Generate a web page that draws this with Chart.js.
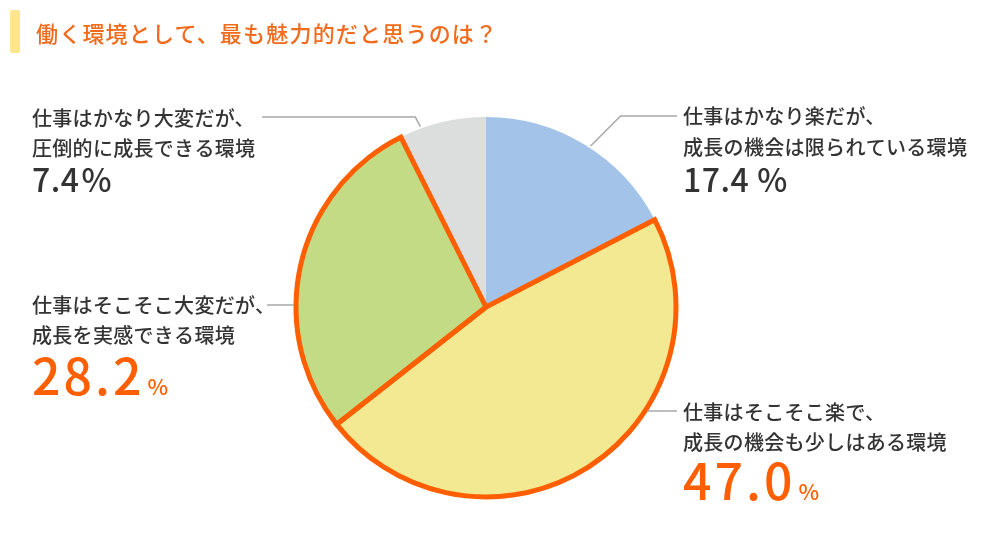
<!DOCTYPE html>
<html lang="ja">
<head>
<meta charset="utf-8">
<script src="https://cdn.jsdelivr.net/npm/chart.js@4"></script>
<style>
  body { margin: 0; background: #fff; }
  #wrap { position: relative; width: 1000px; height: 540px; }
  #bar { position: absolute; left: 10px; top: 10px; width: 10px; height: 43px; background: #ffe68c; border-radius: 2px; }
  #title { position: absolute; left: 36px; top: 17px; font: 500 22px "Noto Sans CJK JP", sans-serif; letter-spacing: 1.2px; color: #f26a1b; line-height: 30px; }
  canvas { position: absolute; left: 0; top: 0; }
</style>
</head>
<body>
<div id="wrap">
  <canvas id="pie" width="1000" height="540"></canvas>
  <div id="bar"></div>
  <div id="title">働く環境として、最も魅力的だと思うのは？</div>
</div>
<script>
const categories = [
    ['仕事はかなり楽だが、', '成長の機会は限られている環境'],
    ['仕事はそこそこ楽で、', '成長の機会も少しはある環境'],
    ['仕事はそこそこ大変だが、', '成長を実感できる環境'],
    ['仕事はかなり大変だが、', '圧倒的に成長できる環境']
];
const values = [17.4, 47.0, 28.2, 7.4];
const highlighted = [false, true, true, false];

const sliceColors = ['#a3c4e8', '#f3e993', '#c3db84', '#dcdedd'];
const orange = '#ff5f00';
const textColor = '#333333';
const lineColor = '#a8a8a8';
const font = '"Noto Sans CJK JP", sans-serif';

// where each label sits, and how its leader line runs
const labelPos = [
    { x: 683, lines: [116, 147], base: 192, leader: { angle: 33, elbowDx: 30, y: 116, endX: 677 } },
    { x: 683, lines: [412, 442], base: 500, leader: { y: 411, endX: 677 } },
    { x: 32, lines: [305, 335], base: 395, leader: { y: 305, endX: 267 } },
    { x: 32, lines: [118, 148], base: 192, leader: { angle: 340, elbowDx: -5, y: 117, endX: 262 } }
];

const labelPlugin = {
    id: 'labels',
    afterDatasetsDraw(chart) {
        const ctx = chart.ctx;
        const arcs = chart.getDatasetMeta(0).data;
        const cx = arcs[0].x, cy = arcs[0].y, R = arcs[0].outerRadius + 2;

        ctx.save();
        // orange outline round the highlighted slices, drawn after all fills
        ctx.strokeStyle = orange;
        ctx.lineWidth = 5;
        ctx.lineJoin = 'miter';
        arcs.forEach(function(a, i) {
            if (!highlighted[i]) return;
            ctx.beginPath();
            ctx.moveTo(a.x, a.y);
            ctx.arc(a.x, a.y, a.outerRadius, a.startAngle, a.endAngle);
            ctx.closePath();
            ctx.stroke();
        });

        ctx.strokeStyle = lineColor;
        ctx.lineWidth = 1.5;
        labelPos.forEach(function(p) {
            const l = p.leader;
            ctx.beginPath();
            if (l.angle !== undefined) {
                const a = l.angle * Math.PI / 180;
                const px = cx + R * Math.sin(a), py = cy - R * Math.cos(a);
                ctx.moveTo(px, py);
                ctx.lineTo(px + l.elbowDx, l.y);
                ctx.lineTo(l.endX, l.y);
            } else {
                const dx = Math.sqrt(R * R - (l.y - cy) * (l.y - cy));
                const sx = l.endX > cx ? cx + dx : cx - dx;
                ctx.moveTo(sx, l.y);
                ctx.lineTo(l.endX, l.y);
            }
            ctx.stroke();
        });

        values.forEach(function(v, i) {
            const p = labelPos[i];
            ctx.fillStyle = textColor;
            ctx.font = '500 20px ' + font;
            ctx.letterSpacing = '0.3px';
            ctx.textBaseline = 'middle';
            ctx.textAlign = 'left';
            categories[i].forEach(function(t, j) {
                ctx.fillText(t, p.x, p.lines[j]);
            });
            const num = v.toFixed(1);
            ctx.textBaseline = 'alphabetic';
            if (highlighted[i]) {
                ctx.fillStyle = orange;
                ctx.font = '500 50px ' + font;
                ctx.letterSpacing = '3px';
                ctx.fillText(num, p.x, p.base);
                const w = ctx.measureText(num).width;
                ctx.font = '500 22px ' + font;
                ctx.letterSpacing = '0px';
                ctx.fillText('%', p.x + w + 3, p.base);
            } else {
                ctx.fillStyle = textColor;
                ctx.font = '500 32px ' + font;
                ctx.letterSpacing = '0.5px';
                ctx.fillText(num, p.x, p.base);
                const w = ctx.measureText(num).width;
                ctx.letterSpacing = '0px';
                ctx.fillText('%', p.x + w + (i === 0 ? 8 : 2), p.base);
            }
        });
        ctx.restore();
    }
};

new Chart(document.getElementById('pie').getContext('2d'), {
    type: 'pie',
    data: {
        labels: categories.map(function(c) { return c.join(''); }),
        datasets: [{
            data: values,
            backgroundColor: sliceColors,
            borderWidth: 0
        }]
    },
    options: {
        responsive: false,
        animation: false,
        layout: { padding: { left: 296, right: 324, top: 117, bottom: 43 } },
        plugins: {
            legend: { display: false },
            tooltip: { enabled: false }
        }
    },
    plugins: [labelPlugin]
});
</script>
</body>
</html>
